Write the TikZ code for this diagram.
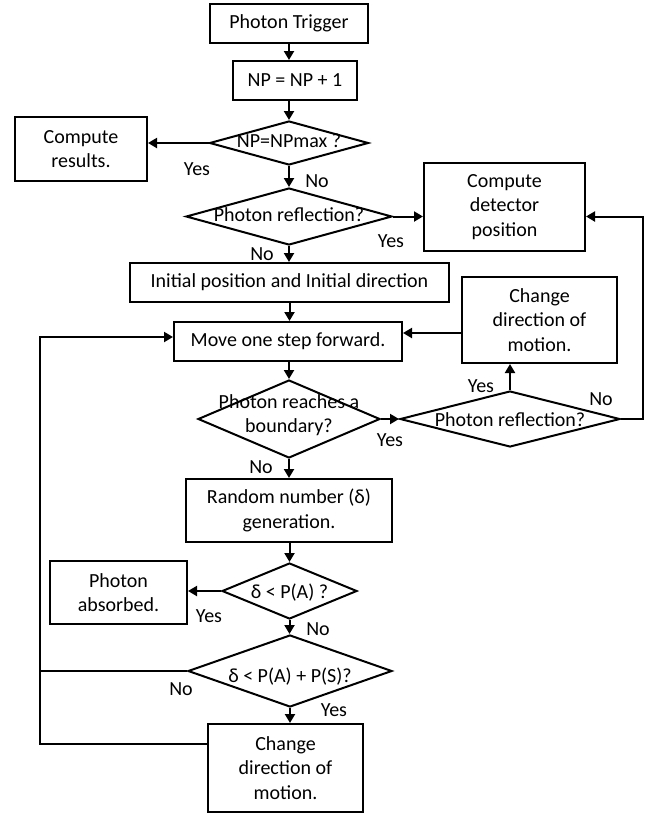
\documentclass[tikz,border=0pt]{standalone}
\usepackage{fontspec}
\setmainfont{Carlito}
\usepackage{tikz}
\usetikzlibrary{arrows.meta, positioning, calc, shapes.geometric}

% text of a decision: zero width, so the diamond keeps its own size
\newcommand{\dtext}[2][0pt]{\raisebox{\dimexpr#1-5pt\relax}{\makebox[0pt]{\begin{tabular}{@{}c@{}}#2\end{tabular}}}}

\begin{document}
\begin{tikzpicture}[
    x=1pt, y=-1pt,
    >={Triangle[length=9pt,width=10pt]},
    line width=2pt,
    font=\fontsize{20}{24.5}\selectfont,
    block/.style={draw, rectangle, align=center, inner sep=0pt},
    decision/.style={draw, diamond, inner sep=0pt, text height=0pt, text depth=0pt}
]

\useasboundingbox (0,0) rectangle (652,815);

% =========================================================
% TOP: trigger and photon counter
% =========================================================
\node[block, minimum width=158pt, minimum height=39pt] (trigger) at (289,23.5) {Photon Trigger};
\node[block, minimum width=124pt, minimum height=39pt] (count) at (295,80.5) {NP = NP + 1};
\node[decision, minimum width=159pt, minimum height=44pt] (npmax) at (289,143) {\dtext{NP=NPmax ?}};
\node[block, minimum width=132pt, minimum height=64pt] (results) at (81,149) {Compute\\results.};
\node[decision, minimum width=206pt, minimum height=57pt] (reflA) at (289,216.5) {\dtext{Photon reflection?}};
\node[block, minimum width=161pt, minimum height=88pt] (detector) at (504.5,207) {Compute\\detector\\position};

% =========================================================
% MIDDLE: start and step loop
% =========================================================
\node[block, minimum width=319pt, minimum height=39pt] (init) at (289.5,282.5) {Initial position and Initial direction};
\node[block, minimum width=228pt, minimum height=39pt] (move) at (288,341.5) {Move one step forward.};
\node[block, minimum width=155pt, minimum height=86pt] (turnA) at (539.5,320) {Change\\direction of\\motion.};
\node[decision, minimum width=182pt, minimum height=78pt] (boundary) at (289,419) {\dtext[3pt]{Photon reaches a\\boundary?}};
\node[decision, minimum width=220pt, minimum height=56pt] (reflB) at (510,419) {\dtext[-3pt]{Photon reflection?}};

% =========================================================
% BOTTOM: absorption and scattering
% =========================================================
\node[block, minimum width=206pt, minimum height=63pt] (random) at (289,510.5) {Random number (δ)\\generation.};
\node[decision, minimum width=135pt, minimum height=56pt] (absorb) at (289.5,591) {\dtext[-3pt]{δ < P(A) ?}};
\node[block, minimum width=137pt, minimum height=63pt] (absorbed) at (118.5,592.5) {Photon\\absorbed.};
\node[decision, minimum width=204pt, minimum height=72pt] (scatter) at (290,671) {\dtext[-7pt]{δ < P(A) + P(S)?}};
\node[block, minimum width=155pt, minimum height=88pt] (turnB) at (285.5,768) {Change\\direction of\\motion.};

% connectors
\draw[->] (trigger.south) -- (trigger.south |- count.north);
\draw[->] (npmax.north |- count.south) -- (npmax.north);
\draw[->] (npmax.west) -- (npmax.west -| results.east);
\draw[->] (npmax.south) -- (reflA.north);
\draw[->] (reflA.east) -- (reflA.east -| detector.west);
\draw[->] (reflA.south) -- (reflA.south |- init.north);
\draw[->] (init.south) -- (init.south |- move.north);
\draw[->] (boundary.north |- move.south) -- (boundary.north);
\draw[->] (boundary.east) -- (reflB.west);
\draw[->] (reflB.north) -- (reflB.north |- turnA.south);
\draw[->] ([yshift=-13pt]turnA.west) -- ([yshift=-13pt]turnA.west -| move.east);
\draw[->] (reflB.east) -- ++(22,0) |- (reflA.east -| detector.east);
\draw[->] (boundary.south) -- (boundary.south |- random.north);
\draw[->] (absorb.north |- random.south) -- (absorb.north);
\draw[->] (absorb.west) -- (absorb.west -| absorbed.east);
\draw[->] (absorb.south) -- (absorb.south |- scatter.north);
\draw[->] (scatter.south) -- (scatter.south |- turnB.north);

% loop back to the step
\coordinate (rail) at (40,744);
\draw (scatter.west) -- (scatter.west -| rail);
\draw[->] (turnB.west |- rail) -- (rail) |- ([yshift=4.5pt]move.west);

% labels
\node (yesResults) at (197,169) {Yes};
\node (noCount) at (317,181) {No};
\node (yesDetector) at (391,241) {Yes};
\node (noInit) at (262,254) {No};
\node (yesBoundary) at (390,440) {Yes};
\node (yesTurn) at (481,386) {Yes};
\node (noDetector) at (601,399) {No};
\node (noRandom) at (261,467) {No};
\node (yesAbsorbed) at (209,616) {Yes};
\node (noScatter) at (318,629) {No};
\node (noRail) at (181,689) {No};
\node (yesTurnB) at (334,710) {Yes};

\end{tikzpicture}
\end{document}
